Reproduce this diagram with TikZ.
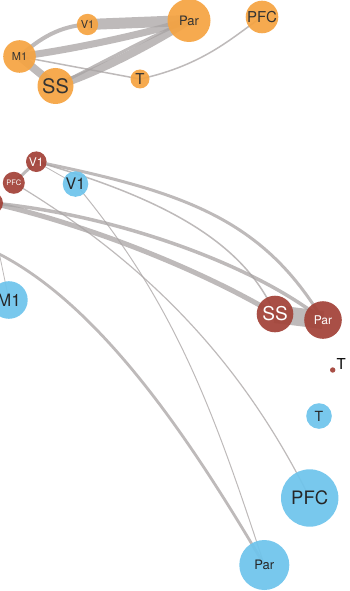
\documentclass[tikz,border=0pt]{standalone}
\usepackage{fontspec}
\setmainfont{TeX Gyre Heros}
\usetikzlibrary{backgrounds}
\definecolor{areaorange}{RGB}{245,164,66}
\definecolor{areared}{RGB}{162,66,56}
\definecolor{areablue}{RGB}{110,196,236}
\definecolor{linkgray}{RGB}{168,163,163}
\tikzset{
  area/.style={circle, inner sep=0pt, fill opacity=0.93, text opacity=1},
  link/.style={draw=linkgray, draw opacity=0.75},
}
\begin{document}
\begin{tikzpicture}[x=1pt,y=-1pt]
  \useasboundingbox (0,0) rectangle (350,591);
  \clip (0,0) rectangle (350,591);

  % top network
  \foreach \n/\x/\y/\r/\fs/\lab in {oV1/87.5/24.5/10.7/11/V1, oPar/189/20.5/21.5/13/Par,
      oPFC/262/17/16.3/15/PFC, oM1/19.5/56.5/16.3/11/M1, oSS/55.5/86/18/20/SS, oT/140/79/9.5/15/T}{
    \node[area, fill=areaorange, text=black!80, minimum size=2*\r pt, font=\fontsize{\fs}{\fs}\selectfont] (\n) at (\x,\y) {\lab};
  }

  % bottom network, red and blue
  \foreach \n/\x/\y/\r/\fs/\lab in {rV1/36.3/161.7/10.3/12/V1, rPFC/13.8/182.8/11/7.5/PFC, rX/-8/203/11/8/,
      rSS/275/314/18.3/19/SS, rPar/323/320/18.8/12/Par, rT/332.7/370/2.7/8/}{
    \node[area, fill=areared, text=white, minimum size=2*\r pt, font=\fontsize{\fs}{\fs}\selectfont] (\n) at (\x,\y) {\lab};
  }
  \foreach \n/\x/\y/\r/\fs/\lab in {bV1/75.5/184/12.8/16/V1, bM1/8.9/300/18.8/17/M1, bT/319/416/12.8/14/T,
      bPFC/309.7/498/28.7/18.5/PFC, bPar/264.3/565/25/13/Par}{
    \node[area, fill=areablue, text=black!85, minimum size=2*\r pt, font=\fontsize{\fs}{\fs}\selectfont] (\n) at (\x,\y) {\lab};
  }
  \node[anchor=base west, inner sep=0pt, font=\fontsize{15}{15}\selectfont] (rTlab) at (336.5,369.3) {T};

  \coordinate (bX) at (-40,238);
  \coordinate (mX) at (-3.5,240);

  \begin{scope}[on background layer]
    % top links
    \draw[link, line width=11pt] (oV1.center) -- (oPar.center);
    \draw[link, line width=4pt] (oM1.center) .. controls (40,38) and (60,26) .. (oV1.center);
    \draw[link, line width=7pt] (oM1.center) .. controls (70,50) and (140,35) .. (oPar.center);
    \draw[link, line width=8pt] (oSS.center) .. controls (100,72) and (155,42) .. (oPar.center);
    \draw[link, line width=3pt] (oSS.center) .. controls (100,64) and (150,36) .. (oPar.center);
    \draw[link, line width=8pt] (oM1.center) -- (oSS.center);
    \draw[link, line width=1.5pt] (oM1.center) -- (oT.center);
    \draw[link, line width=1.5pt] (oT.center) .. controls (205,65) and (235,35) .. (oPFC.center);

    % bottom links
    \draw[link, line width=3pt] (rV1.center) .. controls (186,192) and (263,220) .. (rPar.center);
    \draw[link, line width=1.5pt] (rV1.center) .. controls (170,200) and (245,245) .. (rSS.center);
    \draw[link, line width=3.5pt] (rX.center) .. controls (110,214) and (250,262) .. (rPar.center);
    \draw[link, line width=5pt] (rX.center) .. controls (100,228) and (210,275) .. (rSS.center);
    \draw[link, line width=3pt] (rV1.center) -- (rPFC.center);
    \draw[link, line width=0.8pt] (rV1.center) -- (bV1.center);
    \draw[link, line width=18pt] (rSS.center) -- (rPar.center);
    \draw[link, line width=1.2pt] (rPFC.center) .. controls (154,267) and (245,368) .. (bPFC.center);
    \draw[link, line width=1pt] (bV1.center) .. controls (176,304) and (215,415) .. (bPar.center);
    \draw[link, line width=2.8pt] (bX) .. controls (80,274) and (182,425) .. (bPar.center);
    \draw[link, line width=0.8pt] (mX) -- (bM1.center);
  \end{scope}
\end{tikzpicture}
\end{document}
